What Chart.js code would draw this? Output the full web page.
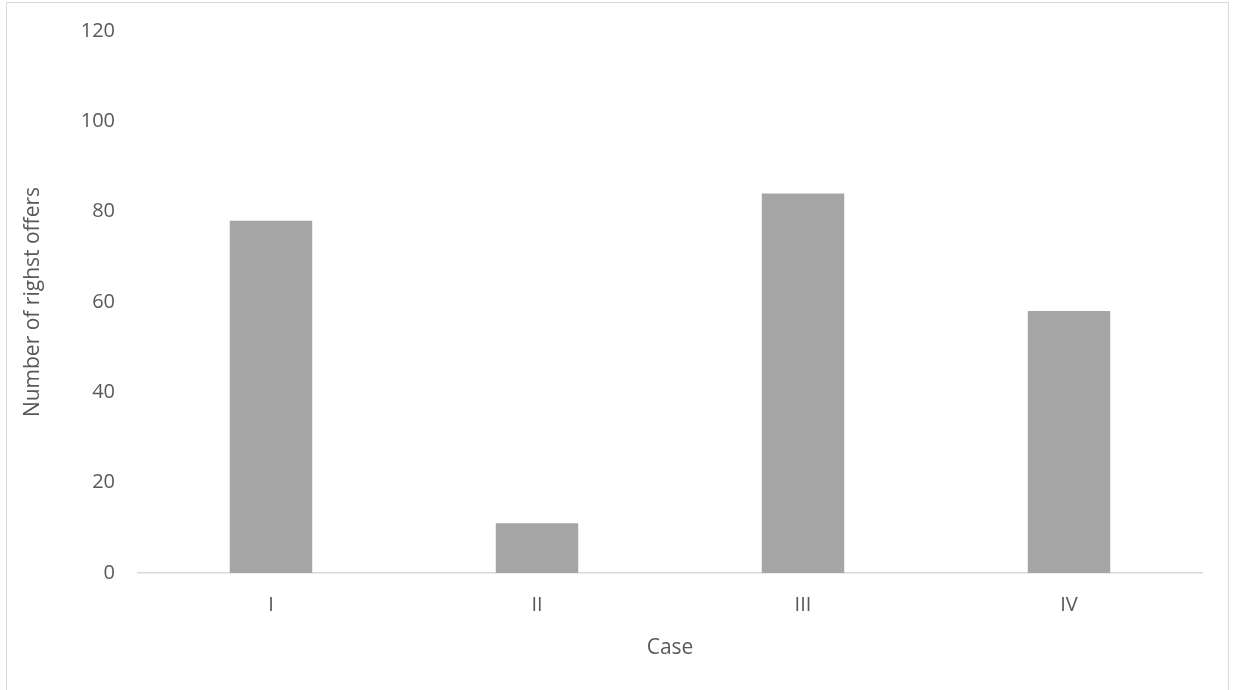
<!DOCTYPE html>
<html>
<head>
<meta charset="utf-8">
<script src="https://cdn.jsdelivr.net/npm/chart.js@4"></script>
<style>
    body { margin: 0; background: #fff; }
    #frame { position: absolute; left: 6px; top: 2px; width: 1223px; height: 700px; border: 1px solid #d9d9d9; box-sizing: border-box; }
    #wrap { position: absolute; left: 0; top: 0; width: 1233px; height: 690px; }
</style>
</head>
<body>
<div id="frame"></div>
<div id="wrap"><canvas id="case-chart"></canvas></div>
<script>
const categories = ['I', 'II', 'III', 'IV'];
const offers = [78, 11, 84, 58];
const yTicks = [0, 20, 40, 60, 80, 100, 120];

const ctx = document.getElementById('case-chart').getContext('2d');
const caseChart = new Chart(ctx, {
    type: 'bar',
    data: {
        labels: categories,
        datasets: [{
            label: 'Number of righst offers',
            data: offers,
            backgroundColor: '#a5a5a5',
            borderWidth: 0,
            barPercentage: 0.31,
            categoryPercentage: 1.0,
        }]
    },
    options: {
        responsive: true,
        maintainAspectRatio: false,
        animation: false,
        layout: {
            padding: { top: 31, right: 31, bottom: 10, left: 0 }
        },
        plugins: {
            legend: { display: false },
            tooltip: { enabled: false }
        },
        scales: {
            x: {
                grid: { display: false, drawTicks: false },
                border: { display: true, color: '#d9d9d9', width: 1.5 },
                ticks: {
                    color: '#595959',
                    font: { family: 'Open Sans', size: 20 },
                    padding: 20,
                },
                title: {
                    display: true,
                    text: 'Case',
                    color: '#595959',
                    font: { family: 'Open Sans', size: 21 },
                    padding: { top: 10, bottom: 19 }
                },
                afterFit: (scale) => { scale.height = 107; }
            },
            y: {
                min: 0,
                max: 120,
                afterBuildTicks: (scale) => {
                    scale.ticks = yTicks.map(v => ({ value: v }));
                },
                grid: { display: false, drawTicks: false },
                border: { display: false },
                ticks: {
                    color: '#595959',
                    font: { family: 'Open Sans', size: 20 },
                    padding: 23,
                },
                title: {
                    display: true,
                    text: 'Number of righst offers',
                    color: '#595959',
                    font: { family: 'Open Sans', size: 21 },
                    padding: { top: 20, bottom: 0 }
                },
                afterFit: (scale) => {
                    // tick padding would otherwise push the plot top down
                    scale.width = 138;
                    scale.paddingTop = 0;
                    scale.paddingBottom = 0;
                }
            }
        }
    }
});
</script>
</body>
</html>
